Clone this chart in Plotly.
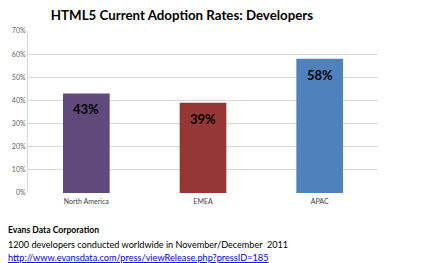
import plotly.graph_objects as go

categories = ["North America", "EMEA", "APAC"]
values = [43, 39, 58]
labels = ["43%", "39%", "58%"]
colors = ["#604A7B", "#953735", "#4F81BD"]
tick_vals = [0, 10, 20, 30, 40, 50, 60, 70]
tick_text = ["0%", "10%", "20%", "30%", "40%", "50%", "60%", "70%"]

fig = go.Figure(go.Bar(
    x=categories, y=values,
    marker=dict(color=colors, line=dict(width=0)),
    hoverinfo="skip",
))

for c, v, t in zip(categories, values, labels):
    fig.add_annotation(x=c, y=v, text="<b>" + t + "</b>", xref="x", yref="y",
                       yanchor="top", yshift=-6, showarrow=False,
                       font=dict(family="Lato", size=13, color="#000000"))

fig.update_layout(
    width=444, height=263,
    margin=dict(l=28, r=66, t=31, b=70),
    paper_bgcolor="white", plot_bgcolor="white",
    bargap=0.6,
    showlegend=False,
    title=dict(text="<b>HTML5 Current Adoption Rates: Developers</b>",
               xref="paper", x=(182 - 28) / 350, xanchor="center",
               y=1 - 15 / 263, yanchor="middle",
               font=dict(family="Lato", size=13.3, color="#000000")),
    xaxis=dict(showgrid=False, showline=False, ticks="", ticklabelstandoff=3,
               tickfont=dict(family="Lato", size=7, color="#404040")),
    yaxis=dict(range=[0, 70], tickvals=tick_vals, ticktext=tick_text,
               showgrid=True, gridcolor="#D9D9D9", gridwidth=1,
               showline=True, linecolor="#D9D9D9", zeroline=False,
               ticks="", ticklen=0,
               tickfont=dict(family="Lato", size=7, color="#606060")),
)

font_foot = dict(family="Lato", size=9.1, color="#000000")
fig.add_annotation(text="<b>Evans Data Corporation</b>", xref="paper", yref="paper",
                   x=-22 / 350, xanchor="left", y=-(230 - 193) / 162, yanchor="middle",
                   showarrow=False, font=dict(family="Lato", size=8.6, color="#000000"))
fig.add_annotation(text="1200 developers conducted worldwide in November/December  2011",
                   xref="paper", yref="paper",
                   x=-22 / 350, xanchor="left", y=-(244 - 193) / 162, yanchor="middle",
                   showarrow=False, font=font_foot)
fig.add_annotation(text="<u>http://www.evansdata.com/press/viewRelease.php?pressID=185</u>",
                   xref="paper", yref="paper",
                   x=-22 / 350, xanchor="left", y=-(257 - 193) / 162, yanchor="middle",
                   showarrow=False, font=dict(family="Lato", size=9.2, color="#0000FF"))

fig.write_html("out.html")
